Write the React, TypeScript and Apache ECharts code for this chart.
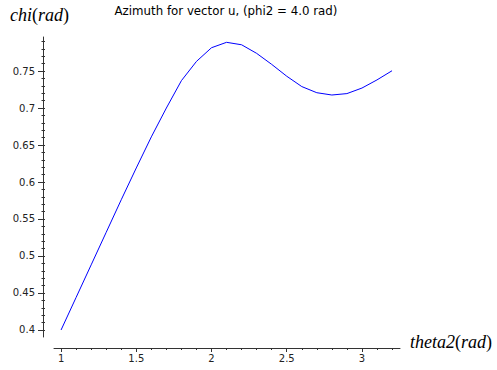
import React, { useEffect, useRef } from "react";
import * as echarts from "echarts";

const titleText = "Azimuth for vector u, (phi2 = 4.0 rad)";
const xNameParts = ["theta2", "rad"];
const yNameParts = ["chi", "rad"];

const thetaValues = [1.0, 1.1, 1.2, 1.3, 1.4, 1.5, 1.6, 1.7, 1.8, 1.9, 2.0, 2.1, 2.2, 2.3, 2.4, 2.5, 2.6, 2.7, 2.8, 2.9, 3.0, 3.1, 3.2];
const chiValues = [0.4, 0.444, 0.488, 0.532, 0.576, 0.619, 0.661, 0.7, 0.737, 0.763, 0.7815, 0.7888, 0.7855, 0.7739, 0.759, 0.743, 0.729, 0.7207, 0.7176, 0.7195, 0.727, 0.738, 0.7504];

const xMajorTicks = [1, 1.5, 2, 2.5, 3];
const xMinorTicks = [1.0, 1.1, 1.2, 1.3, 1.4, 1.5, 1.6, 1.7, 1.8, 1.9, 2.0, 2.1, 2.2, 2.3, 2.4, 2.5, 2.6, 2.7, 2.8, 2.9, 3.0, 3.1, 3.2];
const yMajorTicks = [0.4, 0.45, 0.5, 0.55, 0.6, 0.65, 0.7, 0.75];
const yMinorTicks: number[] = [];
for (let i = 40; i <= 79; i++) yMinorTicks.push(i / 100);

const X_MIN = 0.953;
const X_MAX = 3.253;
const Y_MIN = 0.3905;
const Y_MAX = 0.796;

const axisColor = "#333";
const labelFont = { fontFamily: "DejaVu Sans", fontSize: 10, color: "#222" };

const mathRich = {
  i: { fontFamily: "Liberation Serif", fontStyle: "italic", fontSize: 18, fill: "#000" },
  n: { fontFamily: "Liberation Serif", fontStyle: "normal", fontSize: 18, fill: "#000" },
};
const mathText = (p: string[]) => `{i|${p[0]}}{n|(}{i|${p[1]}}{n|)}`;

export default function App() {
  const ref = useRef<HTMLDivElement>(null);
  useEffect(() => {
    if (!ref.current) return;
    const chart = echarts.init(ref.current, undefined, { renderer: "svg" });
    const baseX = { type: "value", min: X_MIN, max: X_MAX, position: "bottom", offset: 11, splitLine: { show: false } };
    const baseY = { type: "value", min: Y_MIN, max: Y_MAX, position: "left", offset: 11, splitLine: { show: false } };
    chart.setOption({
      animation: false,
      backgroundColor: "#fff",
      grid: { left: 54, top: 37, width: 346, height: 300, containLabel: false },
      graphic: [
        { type: "text", x: 226, y: 11, style: { text: titleText, align: "center", verticalAlign: "middle", fontFamily: "DejaVu Sans", fontSize: 11.8, fill: "#000" } },
        { type: "text", x: 10, y: 15, style: { text: mathText(yNameParts), verticalAlign: "middle", rich: mathRich, fontSize: 18 } },
        { type: "text", x: 410, y: 342, style: { text: mathText(xNameParts), verticalAlign: "middle", rich: mathRich, fontSize: 18 } },
      ],
      xAxis: [
        {
          ...baseX,
          axisLine: { show: true, lineStyle: { color: axisColor, width: 1 } },
          axisTick: { show: true, length: 4, customValues: xMajorTicks, lineStyle: { color: axisColor } },
          axisLabel: { show: true, customValues: xMajorTicks, margin: 5, ...labelFont, formatter: (v: number) => String(v) },
        },
        {
          ...baseX,
          axisLine: { show: false },
          axisTick: { show: true, length: 2, customValues: xMinorTicks, lineStyle: { color: axisColor } },
          axisLabel: { show: false },
        },
      ],
      yAxis: [
        {
          ...baseY,
          axisLine: { show: true, lineStyle: { color: axisColor, width: 1 } },
          axisTick: { show: true, length: 5, customValues: yMajorTicks, lineStyle: { color: axisColor } },
          axisLabel: { show: true, customValues: yMajorTicks, margin: 8, ...labelFont, formatter: (v: number) => String(v) },
        },
        {
          ...baseY,
          axisLine: { show: false },
          axisTick: { show: true, inside: true, length: 2, customValues: yMajorTicks, lineStyle: { color: axisColor } },
          axisLabel: { show: false },
        },
        {
          ...baseY,
          axisLine: { show: false },
          axisTick: { show: true, length: 1.5, customValues: yMinorTicks, lineStyle: { color: axisColor } },
          axisLabel: { show: false },
        },
        {
          ...baseY,
          axisLine: { show: false },
          axisTick: { show: true, inside: true, length: 2, customValues: yMinorTicks, lineStyle: { color: axisColor } },
          axisLabel: { show: false },
        },
      ],
      series: [
        {
          type: "line",
          xAxisIndex: 0,
          yAxisIndex: 0,
          data: thetaValues.map((t, i) => [t, chiValues[i]]),
          showSymbol: false,
          symbol: "none",
          smooth: false,
          lineStyle: { color: "#0000ff", width: 1 },
          clip: false,
        },
      ],
    });
    return () => chart.dispose();
  }, []);
  return <div ref={ref} style={{ position: "fixed", left: 0, top: 0, width: 497, height: 370 }} />;
}
